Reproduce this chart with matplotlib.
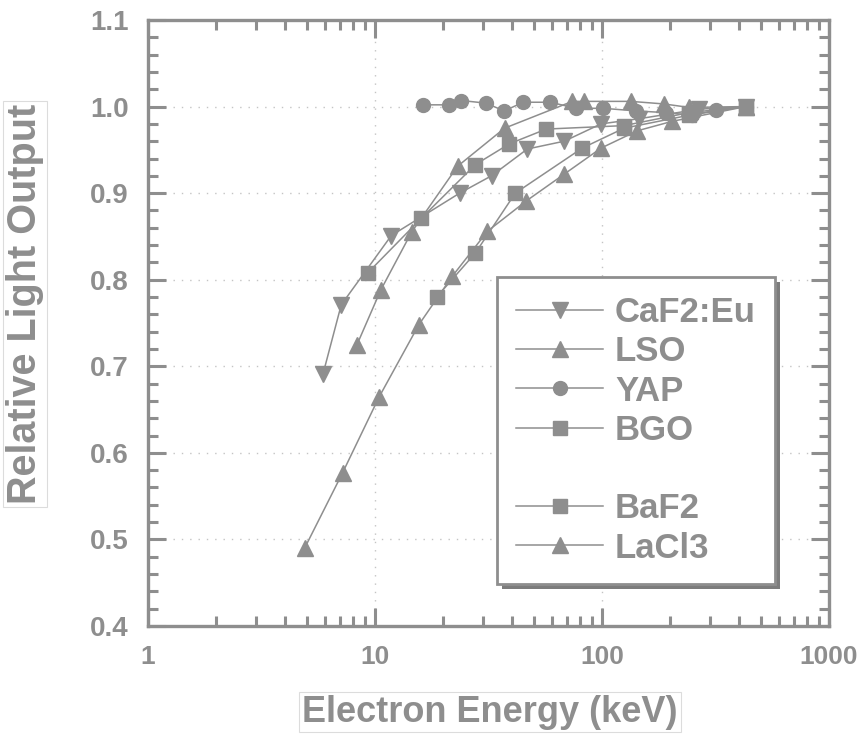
import numpy as np
import matplotlib
matplotlib.use('Agg')
import matplotlib.pyplot as plt
from matplotlib.lines import Line2D
from matplotlib.patches import Rectangle
from matplotlib.transforms import IdentityTransform
from matplotlib.ticker import MultipleLocator, LogLocator, FixedFormatter, NullFormatter

plt.rcParams['font.family'] = ['Liberation Sans', 'DejaVu Sans']
plt.rcParams['font.weight'] = 'bold'

GRAY = '#8e8e8e'

# data (energy in keV, relative light output)
caf2_x = [5.9, 7.1, 11.8, 23.6, 32.6, 46.9, 68.2, 99.0, 146.0, 268.0, 430.0]
caf2_y = [0.691, 0.771, 0.851, 0.900, 0.920, 0.951, 0.960, 0.980, 0.986, 0.997, 1.000]

lso_x = [4.9, 7.2, 10.4, 15.6, 21.9, 31.3, 46.4, 68.2, 99.0, 143.0, 204.0, 430.0]
lso_y = [0.490, 0.577, 0.664, 0.748, 0.804, 0.856, 0.891, 0.922, 0.952, 0.972, 0.983, 1.000]

yap_x = [16.2, 21.1, 24.0, 30.7, 37.1, 45.0, 59.2, 77.0, 101.0, 141.0, 191.0, 249.0, 318.0, 430.0]
yap_y = [1.002, 1.002, 1.007, 1.004, 0.995, 1.005, 1.005, 0.998, 0.998, 0.995, 0.993, 0.990, 0.996, 1.000]

bgo_x = [9.3, 16.0, 27.7, 39.1, 56.8, 125.0, 242.0, 430.0]
bgo_y = [0.808, 0.871, 0.933, 0.957, 0.974, 0.978, 0.993, 1.000]

baf2_x = [18.7, 27.7, 41.5, 81.8, 125.0, 242.0, 430.0]
baf2_y = [0.780, 0.831, 0.900, 0.952, 0.975, 0.990, 1.000]

lacl3_x = [8.3, 10.6, 14.5, 23.1, 37.2, 74.0, 83.5, 134.0, 188.0, 242.0, 430.0]
lacl3_y = [0.724, 0.788, 0.855, 0.931, 0.975, 1.006, 1.006, 1.006, 1.003, 0.999, 1.000]

series = [
    ('CaF2:Eu', caf2_x, caf2_y, 'v', 11),
    ('LSO', lso_x, lso_y, '^', 11),
    ('YAP', yap_x, yap_y, 'o', 10),
    ('BGO', bgo_x, bgo_y, 's', 10),
    ('BaF2', baf2_x, baf2_y, 's', 10),
    ('LaCl3', lacl3_x, lacl3_y, '^', 11),
]

ytick_vals = [0.4, 0.5, 0.6, 0.7, 0.8, 0.9, 1.0, 1.1]
ytick_text = ['0.4', '0.5', '0.6', '0.7', '0.8', '0.9', '1.0', '1.1']
xtick_vals = [1, 10, 100, 1000]
xtick_text = ['1', '10', '100', '1000']

fig = plt.figure(figsize=(8.58, 7.38), dpi=100)
ax = fig.add_axes([0.1725, 0.1518, 0.7937, 0.8211])

handles = {}
for name, x, y, m, ms in series:
    ln, = ax.plot(x, y, color=GRAY, lw=1.1, marker=m, ms=ms,
                  markerfacecolor=GRAY, markeredgecolor=GRAY, label=name)
    handles[name] = ln

ax.set_xscale('log')
ax.set_xlim(1, 1000)
ax.set_ylim(0.4, 1.1)

ax.set_xticks(xtick_vals)
ax.xaxis.set_major_formatter(FixedFormatter(xtick_text))
ax.xaxis.set_minor_locator(LogLocator(base=10, subs=np.arange(2, 10)))
ax.xaxis.set_minor_formatter(NullFormatter())
ax.set_yticks(ytick_vals)
ax.set_yticklabels(ytick_text)
ax.yaxis.set_minor_locator(MultipleLocator(0.02))

ax.tick_params(which='both', direction='in', top=True, right=True,
               color=GRAY, width=2.2, labelcolor=GRAY, labelsize=20)
ax.tick_params(axis='x', labelsize=19)
ax.tick_params(which='major', length=13, pad=14)
ax.tick_params(which='minor', length=7)
for sp in ax.spines.values():
    sp.set_color(GRAY)
    sp.set_linewidth(2.4)

ax.grid(True, which='major', color='#c4c4c4', lw=1.0, ls=(0, (1, 5)))

# legend with an empty row between BGO and BaF2
blank = Line2D([], [], color='none')
leg_handles = [handles['CaF2:Eu'], handles['LSO'], handles['YAP'], handles['BGO'],
               blank, handles['BaF2'], handles['LaCl3']]
leg_labels = ['CaF2:Eu', 'LSO', 'YAP', 'BGO', ' ', 'BaF2', 'LaCl3']
leg = ax.legend(leg_handles, leg_labels, loc='upper left',
                bbox_to_anchor=(0.5125, 0.576), fancybox=False,
                prop={'size': 25, 'weight': 'bold'}, handlelength=2.5,
                handletextpad=0.35, labelspacing=0.18, borderpad=0.55,
                borderaxespad=0, framealpha=1)
leg.get_frame().set_edgecolor(GRAY)
leg.get_frame().set_linewidth(2.0)
for t in leg.get_texts():
    t.set_color(GRAY)

# drop shadow of the legend box, offset a few pixels right and down
fig.canvas.draw()
bb = leg.get_window_extent()
ax.add_artist(Rectangle((bb.x0 + 5, bb.y0 - 5), bb.width, bb.height,
                        transform=IdentityTransform(), facecolor='#7c7c7c',
                        edgecolor='none', zorder=4.9))

box = dict(facecolor='white', edgecolor='#dcdcdc', lw=0.8, pad=2)
fig.text(25 / 858, 1 - 304 / 738, 'Relative Light Output', rotation=90,
         ha='center', va='center', fontsize=28.5, color=GRAY, bbox=box)
fig.text(490 / 858, 1 - 712 / 738, 'Electron Energy (keV)',
         ha='center', va='center', fontsize=26, color=GRAY, bbox=box)

fig.savefig('out.png', dpi=100, facecolor='white')
